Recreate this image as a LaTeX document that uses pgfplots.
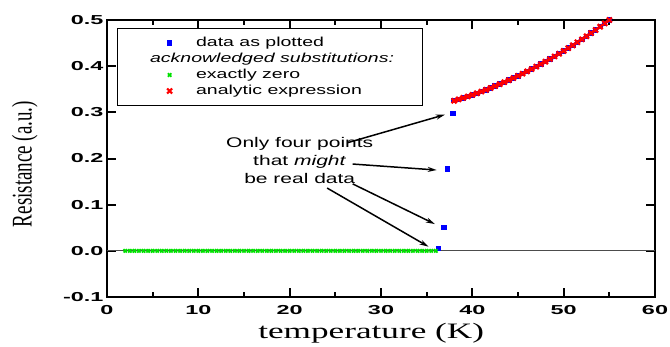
\documentclass[border=0pt]{standalone}
\usepackage{graphicx}
\usepackage{pgfplots}
\pgfplotsset{compat=1.18}
\usepackage{fontspec}
\usetikzlibrary{arrows.meta}
\setmainfont{Liberation Sans}
\newfontfamily\legfont[FakeStretch=1.5]{Liberation Sans}
\newfontfamily\tickfont[FakeStretch=1.8]{Liberation Sans}
\newfontfamily\labfont[FakeStretch=1.6]{Liberation Serif}
\newfontfamily\ylabfont{Liberation Serif}
\newcommand\lf{\legfont\fontsize{13}{15}\selectfont}
\definecolor{dblue}{RGB}{0,0,255}
\definecolor{dgreen}{RGB}{0,225,0}
\definecolor{dred}{RGB}{255,0,0}
\pgfplotsset{
  myleg/.style={legend image code/.code={\path[draw=none,fill=none] (0pt,-3pt) rectangle (50pt,3pt); \draw[mark repeat=2,mark phase=2,##1] plot coordinates {(0pt,0pt)(25pt,0pt)(50pt,0pt)};}}
}
\begin{document}
\begin{tikzpicture}
\begin{axis}[
  width=548pt, height=277pt, scale only axis,
  xmin=0, xmax=60, ymin=-0.1, ymax=0.5,
  xtick={0,10,...,60}, minor x tick num=1,
  ytick={-0.1,0,0.1,0.2,0.3,0.4,0.5},
  tick align=inside,
  axis line style={line width=2.5pt},
  every tick/.style={black,line width=2pt},
  major tick length=9pt, minor tick length=5pt,
  tick label style={font=\tickfont\bfseries\fontsize{13}{15}\selectfont},
  xticklabel style={yshift=-5pt},
  /pgf/number format/assume math mode=true,
  yticklabel style={/pgf/number format/fixed,/pgf/number format/fixed zerofill,/pgf/number format/precision=1},
  xlabel={\labfont\fontsize{22}{24}\selectfont temperature (K)},
  ylabel={\scalebox{1}[1.5]{\ylabfont\fontsize{19}{21}\selectfont Resistance (a.u.)}},
  every axis x label/.style={at={(axis description cs:0.482,-0.13)},anchor=center},
  every axis y label/.style={at={(axis description cs:-0.15,0.48)},rotate=90,anchor=center},
  legend style={at={(rel axis cs:0.018,0.972)}, anchor=north west, draw=black, line width=1.5pt,
    inner xsep=27pt, inner ysep=6.5pt, row sep=0pt, font=\lf,
    nodes={inner sep=1.5pt, text height=10pt, text depth=3pt}},
  legend cell align=left,
]
% data as plotted (blue)
\addplot[only marks, mark=square*, mark size=2.2pt, line width=1pt, color=dblue, fill=dblue, myleg] coordinates {
(36.3,0.005)(36.9,0.050)(37.3,0.177)(37.9,0.297)
(38,0.3250)(38.5,0.3280)(39,0.3312)(39.5,0.3344)(40,0.3378)(40.5,0.3414)(41,0.3450)(41.5,0.3488)
(42,0.3527)(42.5,0.3568)(43,0.3610)(43.5,0.3652)(44,0.3697)(44.5,0.3743)(45,0.3789)(45.5,0.3838)
(46,0.3887)(46.5,0.3938)(47,0.3990)(47.5,0.4043)(48,0.4098)(48.5,0.4154)(49,0.4211)(49.5,0.4270)
(50,0.4330)(50.5,0.4391)(51,0.4453)(51.5,0.4517)(52,0.4582)(52.5,0.4648)(53,0.4716)(53.5,0.4784)
(54,0.4855)(54.5,0.4926)(55,0.5000)
};
\addlegendentry{\lf data as plotted}
\addlegendimage{empty legend}
\addlegendentry{\lf\hspace*{-46pt}\textit{acknowledged substitutions:}}
% exactly zero (green)
\addplot[only marks, mark=x, mark size=2.4pt, line width=1.8pt, color=dgreen, myleg] coordinates {
(2,0)(2.5,0)(3,0)(3.5,0)(4,0)(4.5,0)(5,0)(5.5,0)(6,0)(6.5,0)(7,0)(7.5,0)(8,0)(8.5,0)
(9,0)(9.5,0)(10,0)(10.5,0)(11,0)(11.5,0)(12,0)(12.5,0)(13,0)(13.5,0)(14,0)(14.5,0)(15,0)(15.5,0)
(16,0)(16.5,0)(17,0)(17.5,0)(18,0)(18.5,0)(19,0)(19.5,0)(20,0)(20.5,0)(21,0)(21.5,0)(22,0)(22.5,0)
(23,0)(23.5,0)(24,0)(24.5,0)(25,0)(25.5,0)(26,0)(26.5,0)(27,0)(27.5,0)(28,0)(28.5,0)(29,0)(29.5,0)
(30,0)(30.5,0)(31,0)(31.5,0)(32,0)(32.5,0)(33,0)(33.5,0)(34,0)(34.5,0)(35,0)(35.5,0)(36,0)
};
\addlegendentry{\lf exactly zero}
% analytic expression (red)
\addplot[only marks, mark=x, mark size=3.5pt, line width=2.2pt, color=dred, myleg] coordinates {
(38,0.3250)(38.5,0.3280)(39,0.3312)(39.5,0.3344)(40,0.3378)(40.5,0.3414)(41,0.3450)(41.5,0.3488)
(42,0.3527)(42.5,0.3568)(43,0.3610)(43.5,0.3652)(44,0.3697)(44.5,0.3743)(45,0.3789)(45.5,0.3838)
(46,0.3887)(46.5,0.3938)(47,0.3990)(47.5,0.4043)(48,0.4098)(48.5,0.4154)(49,0.4211)(49.5,0.4270)
(50,0.4330)(50.5,0.4391)(51,0.4453)(51.5,0.4517)(52,0.4582)(52.5,0.4648)(53,0.4716)(53.5,0.4784)
(54,0.4855)(54.5,0.4926)(55,0.5000)
};
\addlegendentry{\lf analytic expression}
\draw[line width=1.2pt, black!70] (axis cs:0,0) -- (axis cs:60,0);
\node[align=center, font=\legfont\fontsize{14}{18}\selectfont] at (axis cs:21.1,0.195)
  {Only four points\\that \textit{might}\\be real data};
\draw[-{Stealth[length=9pt,width=5pt]}, line width=1.5pt] (axis cs:26.3,0.234) -- (axis cs:37.0,0.295);
\draw[-{Stealth[length=9pt,width=5pt]}, line width=1.5pt] (axis cs:26.9,0.188) -- (axis cs:36.1,0.175);
\draw[-{Stealth[length=9pt,width=5pt]}, line width=1.5pt] (axis cs:26.9,0.145) -- (axis cs:35.9,0.058);
\draw[-{Stealth[length=9pt,width=5pt]}, line width=1.5pt] (axis cs:24.1,0.136) -- (axis cs:35.2,0.009);
\end{axis}
\pgfresetboundingbox
\path ([xshift=-107pt,yshift=-50pt]current axis.south west) rectangle ([xshift=15pt,yshift=20pt]current axis.north east);
\end{tikzpicture}
\end{document}
